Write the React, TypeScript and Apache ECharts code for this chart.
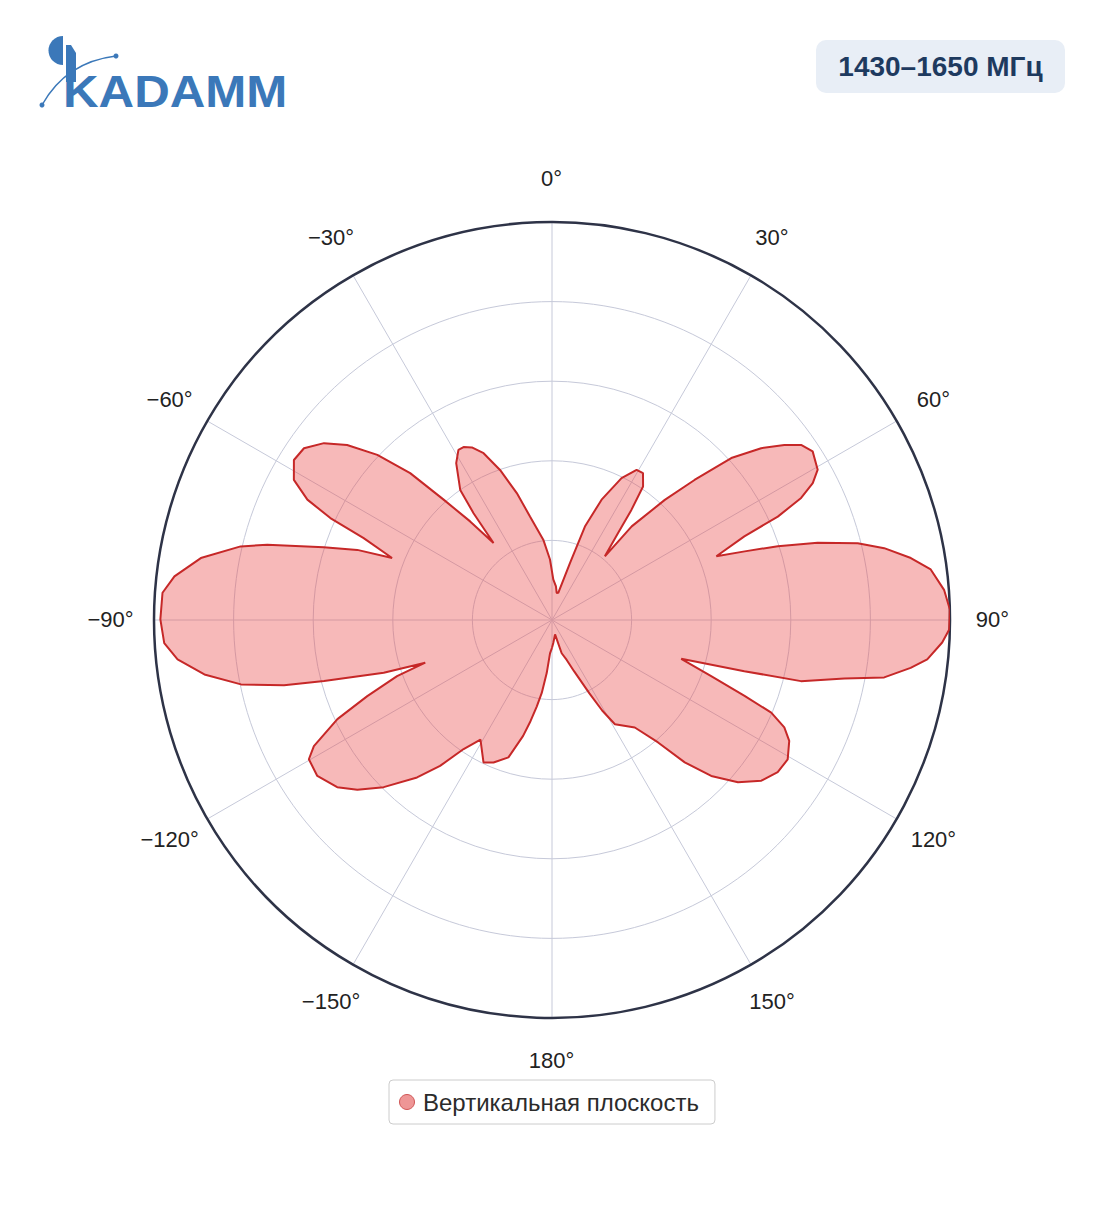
import React, { useEffect, useRef } from "react";
import * as echarts from "echarts";

// Vertical-plane radiation pattern, angle in degrees (0 = top, clockwise), normalized level 0..1
const angles = [
  -180, -176.6, -174.3, -172, -170, -168, -166, -162.4, -157.7, -154.3, -149.1, -145.6, -142.5,
  -139.4, -134.8, -131.1, -127.9, -123.6, -119.8, -117.9, -114.8, -112.4, -109.9, -108.6, -107.4,
  -105, -103.7, -101.7, -98.9, -96, -93.4, -89.9, -86, -83.4, -80, -76.7, -75.2, -72.3, -70.2,
  -68.8, -66.5, -65.3, -63.8, -61.5, -58.2, -55.3, -52.2, -49.5, -46.6, -44, -42, -39.7, -37.2,
  -36.3, -35.2, -31.4, -28.8, -27.1, -24.9, -22.3, -19.1, -15.5, -12, -6.2, -1.9, 1.8, 6.7, 9.8,
  13, 17.5, 19.4, 22.4, 26.1, 29.4, 31.8, 34.3, 35.8, 37.2, 39.7, 40.4, 43.2, 45.5, 47.9, 50.6,
  53, 54.9, 57.1, 60.5, 62.3, 63.9, 65.4, 66.5, 68.8, 70.4, 71.9, 73.8, 75.9, 77.8, 80.2, 82.4,
  85.6, 88.5, 91.4, 93.3, 96, 97.6, 99.8, 101.3, 103.8, 104.9, 106.7, 109.4, 111.5, 112.9, 114.8,
  117, 120.6, 124, 127.5, 131.1, 134.4, 137, 139.1, 142.4, 148.9, 151, 153, 156.7, 159.8, 163.8,
  168, 176.8, 180,
];
const levels = [
  0.07, 0.084, 0.134, 0.185, 0.221, 0.26, 0.3, 0.362, 0.387, 0.397, 0.35, 0.393, 0.462,
  0.521, 0.596, 0.649, 0.684, 0.708, 0.704, 0.677, 0.594, 0.502, 0.414, 0.336, 0.443,
  0.593, 0.693, 0.798, 0.884, 0.946, 0.976, 0.984, 0.981, 0.955, 0.896, 0.804, 0.74, 0.602, 0.52,
  0.431, 0.516, 0.613, 0.685, 0.738, 0.763, 0.758, 0.725, 0.677, 0.604, 0.513, 0.407, 0.322, 0.243,
  0.333, 0.4, 0.462, 0.488, 0.488, 0.478, 0.453, 0.399, 0.331, 0.266, 0.203, 0.152, 0.102, 0.085, 0.069,
  0.07, 0.15, 0.249, 0.327, 0.397, 0.433, 0.434, 0.406, 0.341, 0.274, 0.208, 0.309, 0.414, 0.502, 0.607, 0.68,
  0.731, 0.765, 0.78, 0.767, 0.74, 0.697, 0.624, 0.527, 0.443, 0.514, 0.597, 0.695, 0.792, 0.854, 0.915, 0.96,
  0.988, 1.0, 0.998, 0.982, 0.948, 0.909, 0.847, 0.749, 0.644, 0.5, 0.339, 0.424, 0.52, 0.598, 0.643,
  0.669, 0.688, 0.684, 0.663, 0.62, 0.56, 0.489, 0.407, 0.341, 0.306, 0.26, 0.207, 0.14, 0.107, 0.087,
  0.037, 0.058, 0.07,
];

// Angle tick labels (degrees)
const angleTicks = [0, 30, 60, 90, 120, 150, 180, -150, -120, -90, -60, -30];

const seriesName = "Вертикальная плоскость";
const bandLabel = "1430–1650 МГц";
const brandName = "KADAMM";
const angleMin = -180;
const angleMax = 180;
const angleStep = 30;
const radiusMax = 1;
const radiusStep = 0.2;

const FONT = "'Liberation Sans', Arial, Helvetica, sans-serif";
const BLUE = "#3B78B9";
const LABEL_RADIUS = 1.108;

function angleLabel(v: number): string {
  const a = Math.round(v);
  if (Math.abs(a) === 180) return "180°";
  return (a < 0 ? "\u2212" + -a : String(a)) + "°";
}

export default function App() {
  const ref = useRef<HTMLDivElement>(null);

  useEffect(() => {
    if (!ref.current) return;
    const chart = echarts.init(ref.current, null, { renderer: "svg" });
    const data = angles.map((a, i) => [levels[i], a]);
    const labelData = angleTicks.map((a) => [LABEL_RADIUS, a]);

    chart.setOption({
      animation: false,
      backgroundColor: "#ffffff",
      textStyle: { fontFamily: FONT },
      polar: { center: [552, 620], radius: 398 },
      angleAxis: {
        type: "value",
        min: angleMin,
        max: angleMax,
        interval: angleStep,
        startAngle: 270,
        clockwise: true,
        axisLine: { show: true, lineStyle: { color: "#2E3347", width: 2.5 } },
        axisTick: { show: false },
        axisLabel: { show: false },
        splitLine: { show: true, lineStyle: { color: "#C6C9D9", width: 1 } },
      },
      radiusAxis: {
        type: "value",
        min: 0,
        max: radiusMax,
        interval: radiusStep,
        axisLine: { show: false },
        axisTick: { show: false },
        axisLabel: { show: false },
        splitLine: { show: true, lineStyle: { color: "#C6C9D9", width: 1 } },
      },
      legend: {
        data: [
          {
            name: seriesName,
            icon: "circle",
            itemStyle: { color: "#EE9696", borderColor: "#D05555", borderWidth: 1 },
          },
        ],
        left: 389,
        top: 1080,
        orient: "horizontal",
        padding: [10, 16, 10, 10],
        itemWidth: 22,
        itemHeight: 15,
        borderColor: "#CCCCCC",
        borderWidth: 1,
        borderRadius: 4,
        backgroundColor: "#ffffff",
        textStyle: { fontSize: 24, color: "#2B2B2B", fontFamily: FONT },
      },
      series: [
        {
          type: "line",
          name: seriesName,
          coordinateSystem: "polar",
          data,
          showSymbol: false,
          symbol: "none",
          smooth: false,
          lineStyle: { color: "#C62828", width: 2 },
          itemStyle: { color: "#EE9696", borderColor: "#C62828" },
          areaStyle: { color: "rgba(235,80,80,0.4)", opacity: 1 },
          z: 3,
        },
        {
          type: "scatter",
          name: "angle-labels",
          coordinateSystem: "polar",
          data: labelData,
          symbolSize: 1,
          clip: false,
          silent: true,
          itemStyle: { color: "#ffffff", opacity: 0 },
          label: {
            show: true,
            position: [0, 0],
            align: "center",
            verticalAlign: "middle",
            fontSize: 22,
            color: "#222222",
            opacity: 1,
            textBorderWidth: 0,
            fontFamily: FONT,
            formatter: (p: any) => angleLabel(p.value[1]),
          },
          z: 5,
        },
      ],
      graphic: [
        {
          type: "group",
          children: [
            {
              type: "bezierCurve",
              shape: { x1: 42, y1: 105, x2: 116, y2: 56, cpx1: 66, cpy1: 62 },
              style: { stroke: BLUE, lineWidth: 1.5, fill: "none" },
            },
            { type: "circle", shape: { cx: 42, cy: 105, r: 2.5 }, style: { fill: BLUE } },
            { type: "circle", shape: { cx: 116, cy: 56, r: 2.5 }, style: { fill: BLUE } },
            {
              type: "sector",
              shape: { cx: 63, cy: 50.5, r: 14.5, r0: 0, startAngle: Math.PI / 2, endAngle: (3 * Math.PI) / 2 },
              style: { fill: BLUE },
            },
            {
              type: "polygon",
              shape: { points: [[66, 45], [71, 45], [76, 53], [76, 82], [66, 82]] },
              style: { fill: BLUE },
            },
            {
              type: "text",
              x: 63,
              y: 91.5,
              scaleX: 1.12,
              style: {
                text: brandName,
                font: `bold 44px ${FONT}`,
                fill: BLUE,
                align: "left",
                verticalAlign: "middle",
              },
            },
          ],
        },
        {
          type: "group",
          children: [
            {
              type: "rect",
              shape: { x: 816, y: 40, width: 249, height: 53, r: 10 },
              style: { fill: "#E8EEF6" },
            },
            {
              type: "text",
              x: 940.5,
              y: 66.5,
              style: {
                text: bandLabel,
                font: `bold 28px ${FONT}`,
                fill: "#1E3A5F",
                align: "center",
                verticalAlign: "middle",
              },
            },
          ],
        },
      ],
    });

    return () => chart.dispose();
  }, []);

  return (
    <div
      ref={ref}
      style={{ position: "absolute", left: 0, top: 0, width: 1104, height: 1211 }}
    />
  );
}
